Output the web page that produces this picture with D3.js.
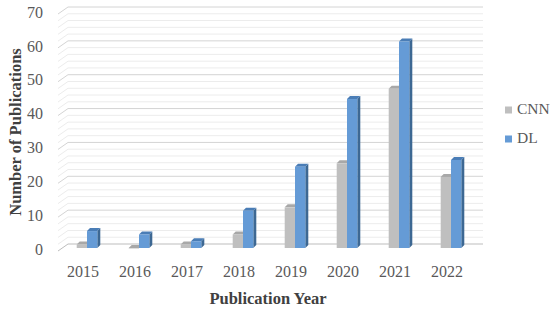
<!DOCTYPE html>
<html>
<head>
  <meta charset="utf-8">
  <title>Publications per year - CNN & DL</title>
  <script src="https://d3js.org/d3.v7.min.js"></script>
  <style>
    body { margin: 0; background: #fff; }
    text { font-family: "Palatino Linotype", "Book Antiqua", Palatino, "Liberation Serif", serif; }
  </style>
</head>
<body>
  <div id="chart"></div>
  <script>
    const years = ["2015", "2016", "2017", "2018", "2019", "2020", "2021", "2022"];
    const cnn = [1, 0, 1, 4, 12, 25, 47, 21];
    const dl = [5, 4, 2, 11, 24, 44, 61, 26];
    const seriesNames = ["CNN", "DL"];
    const yTicks = [0, 10, 20, 30, 40, 50, 60, 70];

    const width = 550, height = 310;
    const svg = d3.select("#chart").append("svg").attr("width", width).attr("height", height);

    // 3d look: back wall is shifted right/up from the front edge
    const depthX = 10, depthY = -7;
    const x = d3.scaleBand().domain(years).range([57, 473]);
    const xs = d3.scaleBand().domain(seriesNames).range([0, 20.6]);
    const yBack = d3.scaleLinear().domain([0, 70]).range([244, 7]);
    const yBar = d3.scaleLinear().domain([0, 70]).range([248, 11]);

    const colors = {
      CNN: { front: "#bfbfbf", side: "#8e8e8e", top: "#a8a8a8" },
      DL: { front: "#659bd6", side: "#3d6893", top: "#4a7db6" }
    };

    // gridlines (minor every 2, major every 10)
    const grid = svg.append("g");
    d3.range(0, 71, 2).forEach(v => {
      const major = v % 10 === 0;
      const col = v === 0 ? "#bdbdbd" : (major ? "#d4d4d4" : "#ececec");
      const yb = yBack(v);
      grid.append("line")
        .attr("x1", 68).attr("x2", 483).attr("y1", yb).attr("y2", yb)
        .attr("stroke", col).attr("stroke-width", 1);
      grid.append("line")
        .attr("x1", 58).attr("x2", 68).attr("y1", yb - depthY).attr("y2", yb)
        .attr("stroke", col).attr("stroke-width", 1);
    });

    // y tick labels
    svg.append("g").selectAll("text").data(yTicks).enter().append("text")
      .attr("x", 43).attr("y", d => yBack(d) - depthY)
      .attr("text-anchor", "end").attr("dominant-baseline", "middle")
      .attr("font-size", 16).attr("fill", "#595959")
      .text(d => d);

    // bars
    const data = [];
    years.forEach((yr, i) => {
      data.push({ year: yr, s: "CNN", v: cnn[i] });
      data.push({ year: yr, s: "DL", v: dl[i] });
    });
    const bw = xs.bandwidth(), sd = 3;
    const bars = svg.append("g").selectAll("g").data(data).enter().append("g");
    bars.each(function(d) {
      const g = d3.select(this);
      const x0 = x(d.year) + x.bandwidth() / 2 + 4 - 10.3 + xs(d.s);
      const y0 = yBar(d.v), yb = yBar(0);
      const c = colors[d.s];
      g.append("polygon")
        .attr("points", [[x0 + bw, y0], [x0 + bw + sd, y0 - sd], [x0 + bw + sd, yb - sd], [x0 + bw, yb]].join(" "))
        .attr("fill", c.side);
      g.append("polygon")
        .attr("points", [[x0, y0], [x0 + sd, y0 - sd], [x0 + bw + sd, y0 - sd], [x0 + bw, y0]].join(" "))
        .attr("fill", c.top);
      g.append("rect")
        .attr("x", x0).attr("y", y0).attr("width", bw).attr("height", Math.max(yb - y0, 0.5))
        .attr("fill", c.front);
    });

    // x labels
    svg.append("g").selectAll("text").data(years).enter().append("text")
      .attr("x", d => x(d) + x.bandwidth() / 2).attr("y", 273)
      .attr("text-anchor", "middle").attr("dominant-baseline", "middle")
      .attr("font-size", 16).attr("fill", "#595959")
      .text(d => d);

    // titles
    svg.append("text")
      .attr("x", 268).attr("y", 304).attr("text-anchor", "middle")
      .attr("font-size", 16.5).attr("font-weight", "bold").attr("fill", "#404040")
      .text("Publication Year");
    svg.append("text")
      .attr("transform", "translate(21,132) rotate(-90)").attr("text-anchor", "middle")
      .attr("font-size", 16.5).attr("font-weight", "bold").attr("fill", "#404040")
      .text("Number of Publications");

    // legend
    const legend = svg.append("g").selectAll("g").data(seriesNames).enter().append("g")
      .attr("transform", (d, i) => `translate(505,${110 + i * 29})`);
    legend.append("rect").attr("x", 0).attr("y", -3.5).attr("width", 7).attr("height", 7)
      .attr("fill", d => colors[d].front);
    legend.append("text").attr("x", 12).attr("y", 0).attr("dominant-baseline", "middle")
      .attr("font-size", 15.5).attr("fill", "#595959").text(d => d);
  </script>
</body>
</html>
